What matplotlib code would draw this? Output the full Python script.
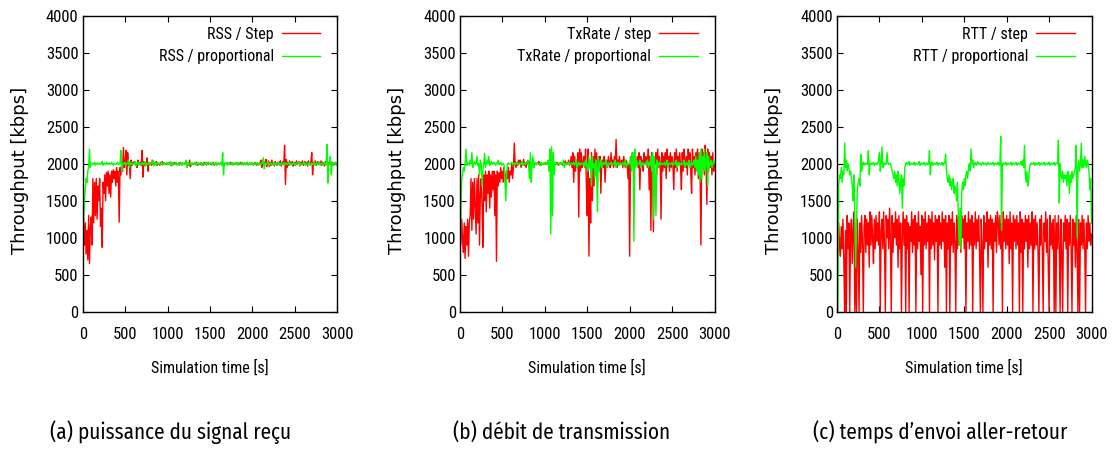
import numpy as np
import matplotlib
matplotlib.use("Agg")
import matplotlib.pyplot as plt

plt.rcParams['font.family'] = ['Roboto Condensed', 'DejaVu Sans']

# throughput samples, every 10 s from 0 to 3000 s
rss_step = [
    800, 1250, 900, 1200, 780, 1100, 700, 1300, 650, 1150,
    1280, 900, 1800, 1200, 1750, 1300, 1800, 1250, 1700, 1500,
    1800, 1150, 1400, 870, 1750, 1600, 1850, 1500, 1880, 1700,
    1900, 1600, 1850, 1550, 1900, 1750, 1920, 1800, 1900, 1700,
    1950, 1750, 1900, 1210, 1950, 1850, 1980, 1900, 2220, 1950,
    2000, 2180, 1850, 2150, 1980, 2020, 1800, 2050, 1980, 2020,
    2000, 2030, 1990, 2010, 1950, 2050, 1990, 2000, 2020, 1980,
    2180, 1820, 2030, 1980, 2020, 1990, 2080, 1900, 2010, 1990,
    2010, 1980, 2050, 1990, 2020, 1990, 2000, 2030, 1980, 2010,
    2000, 1980, 2020, 2000, 2030, 1990, 2010, 2000, 1990, 2010,
    1990, 2010, 2000, 2020, 1980, 2000, 2010, 1990, 2020, 2000,
    2010, 1990, 2000, 2010, 1980, 2020, 2000, 1990, 2010, 2000,
    2000, 2020, 1990, 2000, 2010, 1980, 2050, 1960, 2000, 2010,
    1990, 2000, 2010, 1990, 2020, 2000, 1980, 2010, 2000, 1990,
    2010, 2000, 1980, 2020, 2000, 1990, 2010, 2000, 2020, 1990,
    2000, 2010, 1990, 2000, 2020, 1980, 2000, 2010, 1990, 2000,
    2010, 1990, 2000, 2020, 1990, 2000, 2010, 1980, 2000, 2010,
    2000, 1990, 2010, 2000, 2020, 1990, 2000, 2010, 1990, 2000,
    2010, 2000, 1990, 2000, 2010, 1990, 2020, 2000, 1990, 2010,
    2000, 2010, 1990, 2000, 2020, 1990, 2000, 2010, 2000, 1990,
    2010, 2000, 1990, 2020, 2000, 1980, 2010, 2000, 1990, 2010,
    2050, 1950, 2000, 2030, 1980, 2010, 2060, 1960, 2000, 2040,
    1960, 2020, 1980, 2050, 1990, 2010, 1970, 2030, 2000, 1980,
    2020, 1990, 2010, 2040, 1970, 2000, 2030, 1990, 2250, 1720,
    2060, 1950, 2020, 1980, 2040, 1990, 2010, 2030, 1970, 2000,
    2020, 1980, 2040, 1990, 2010, 2030, 1970, 2020, 1990, 2040,
    1980, 2010, 2030, 1990, 2020, 1970, 2040, 2000, 1990, 2030,
    2150, 1850, 2020, 1990, 2040, 1980, 2010, 2030, 1990, 2020,
    1990, 2040, 1980, 2020, 2000, 1970, 2030, 2010, 1990, 2020,
    1980, 2030, 2000, 1990, 2020, 1980, 2010, 2000, 2020, 1990,
    2000]
rss_prop = [
    800, 1200, 1500, 1650, 1800, 1750, 1900, 1950, 2200, 1950,
    2000, 2010, 1990, 2000, 2020, 1980, 2000, 2010, 1990, 2000,
    2010, 1990, 2000, 2030, 1980, 2000, 2010, 1990, 2020, 2000,
    1990, 2010, 2000, 1990, 2020, 2000, 1980, 2010, 2000, 1990,
    2000, 2020, 1990, 2000, 2010, 2180, 1900, 2010, 1990, 2000,
    2020, 1980, 2000, 2010, 2050, 1950, 2000, 2020, 1990, 2000,
    2010, 1990, 2030, 1970, 2000, 2020, 1980, 2010, 2000, 1990,
    2020, 1990, 2000, 2030, 1970, 2010, 2000, 1990, 2020, 2000,
    1990, 2010, 2000, 2040, 1970, 2000, 2030, 1980, 2010, 2000,
    2010, 1990, 2000, 2020, 1980, 2000, 2010, 1990, 2000, 2020,
    1990, 2000, 2010, 1990, 2030, 1970, 2000, 2010, 1990, 2000,
    2020, 1980, 2000, 2010, 1990, 2000, 2020, 1980, 2000, 2010,
    1990, 2000, 2050, 1950, 2010, 1990, 2000, 2020, 1980, 2000,
    2010, 1990, 2000, 2020, 1980, 2000, 2010, 1990, 2000, 2020,
    1980, 2000, 2010, 1990, 2000, 2020, 1980, 2000, 2010, 1990,
    2000, 2020, 1980, 2000, 2010, 1990, 2000, 2020, 1980, 2000,
    2010, 1990, 2000, 2020, 1980, 2150, 1850, 2010, 1990, 2000,
    2020, 1980, 2000, 2010, 1990, 2000, 2020, 1980, 2000, 2010,
    1990, 2000, 2020, 1980, 2000, 2010, 1990, 2000, 2020, 1980,
    2000, 2010, 1990, 2000, 2020, 1980, 2000, 2010, 1990, 2000,
    2020, 1980, 2000, 2010, 1990, 2000, 2020, 1980, 2000, 2010,
    1990, 2000, 2020, 2080, 1930, 2000, 2010, 1990, 2000, 2020,
    1980, 2000, 2010, 1990, 2000, 2020, 1980, 2000, 2010, 1990,
    2000, 2020, 1980, 2000, 2010, 1990, 2000, 2020, 1980, 2000,
    2010, 1990, 2000, 2020, 1980, 2000, 2010, 1990, 2000, 2020,
    1980, 2000, 2010, 1990, 2000, 2020, 1980, 2000, 2010, 1990,
    2000, 2020, 1980, 2000, 2010, 1990, 2000, 2020, 1980, 2000,
    2010, 1990, 2000, 2020, 1980, 2000, 2010, 1990, 2000, 2020,
    1980, 2000, 2010, 1990, 2000, 2020, 1980, 2000, 2260, 1740,
    2000, 2020, 2100, 1850, 2000, 2010, 1990, 2000, 2020, 1980,
    2000]

tx_step = [
    1300, 900, 1250, 1000, 800, 1200, 720, 1150, 900, 1250,
    750, 1200, 1300, 1800, 1100, 1750, 1250, 1800, 1400, 1050,
    1800, 1200, 1850, 900, 1600, 1800, 1450, 870, 1850, 1500,
    1900, 1350, 1850, 1600, 1900, 1400, 1850, 1550, 1900, 1650,
    1900, 1300, 1850, 680, 1900, 1700, 1880, 1750, 1950, 1800,
    1900, 1750, 1950, 1850, 1700, 1900, 1800, 1950, 1750, 1900,
    1850, 2000, 1800, 1950, 2280, 2000, 1950, 2020, 1980, 2050,
    2000, 2050, 1950, 2020, 1990, 2060, 1980, 2010, 1950, 2030,
    2000, 2040, 1980, 2010, 1990, 2020, 2000, 1980, 2010, 2000,
    1990, 2010, 2000, 2030, 1980, 2000, 2010, 1990, 2000, 2010,
    2000, 2020, 1990, 2010, 2000, 1990, 2010, 2000, 2020, 1980,
    2000, 2010, 1990, 2000, 2020, 2010, 1980, 2000, 2010, 2000,
    2010, 1980, 2020, 2000, 2040, 1990, 2010, 2000, 2050, 1980,
    2000, 2100, 1950, 2150, 1750, 2100, 1900, 2050, 1950, 2150,
    1280, 2200, 1900, 2150, 1950, 2000, 2100, 1950, 2200, 1700,
    1300, 2200, 750, 1800, 1200, 2150, 1500, 2100, 1700, 2200,
    1850, 2150, 1950, 2050, 2000, 2100, 1600, 2000, 2050, 1950,
    2100, 1750, 2000, 2050, 1950, 2100, 2000, 1950, 2150, 2000,
    2050, 1950, 2100, 1980, 2330, 1950, 2050, 1980, 2100, 2000,
    2000, 2050, 1950, 2100, 2000, 1950, 2050, 2000, 1800, 2000,
    750, 2050, 1950, 2150, 2000, 2100, 1950, 2050, 2000, 2100,
    1950, 2150, 1650, 2100, 2000, 2050, 1900, 2150, 2000, 2100,
    2050, 1950, 2200, 1650, 2100, 1100, 2150, 1950, 1080, 2100,
    2000, 2150, 1850, 2200, 1950, 2100, 2000, 1250, 2150, 1900,
    2100, 1950, 2150, 1800, 2200, 2000, 2100, 1900, 2150, 1950,
    2100, 2000, 1650, 2150, 1950, 2200, 1900, 2100, 2000, 2150,
    1950, 1650, 2150, 1900, 2200, 2050, 1950, 2100, 1850, 2200,
    2000, 2150, 1900, 1600, 2200, 1950, 2100, 1850, 2150, 1950,
    2200, 1800, 2150, 1900, 900, 2200, 1950, 2150, 1850, 2250,
    2000, 1450, 2200, 1900, 2150, 1950, 2100, 1850, 2150, 1900,
    2000]
tx_prop = [
    600, 1300, 1800, 1850, 1950, 1900, 2000, 2200, 1980, 2020,
    2000, 1980, 2050, 2000, 2150, 1950, 2000, 2030, 1990, 2000,
    2100, 1980, 2000, 1850, 2050, 2000, 1700, 1900, 2000, 2140,
    1950, 2000, 2050, 2000, 2100, 1980, 2000, 2030, 1990, 2000,
    2020, 2000, 1980, 2010, 2000, 2050, 1990, 2000, 2020, 1980,
    2000, 2000, 1980, 1750, 1500, 1850, 2000, 2010, 1990, 2000,
    2000, 2020, 1990, 2000, 2010, 1990, 2000, 2020, 1990, 2000,
    2010, 1990, 2000, 2030, 1980, 2000, 2010, 1990, 2000, 2020,
    2050, 1950, 1800, 2150, 1750, 2000, 2100, 1950, 2000, 2020,
    1990, 2000, 2010, 1990, 2000, 2020, 1980, 2000, 2010, 1990,
    2000, 2020, 1990, 2000, 2050, 1900, 2200, 1050, 2230, 1300,
    2150, 1850, 2000, 2020, 1990, 2000, 2010, 1990, 2000, 2020,
    1990, 2000, 2050, 1950, 2000, 2010, 1990, 2000, 2020, 1990,
    2000, 2010, 1990, 2000, 2020, 1980, 2000, 2050, 1950, 2000,
    2020, 1980, 2000, 2010, 1990, 2000, 2020, 1950, 2050, 1980,
    2000, 1900, 2100, 1950, 2050, 1700, 2100, 1950, 2000, 1800,
    2050, 1950, 1350, 2100, 1900, 2000, 2050, 1950, 2000, 2020,
    1990, 2000, 2050, 1950, 2000, 2010, 1990, 2000, 2020, 1980,
    2000, 2010, 1990, 2050, 1950, 2000, 2020, 1980, 2000, 2010,
    1990, 2000, 2020, 1980, 2000, 2050, 1950, 2000, 2010, 1990,
    2000, 2100, 1900, 2050, 2150, 950, 2200, 1950, 2050, 2000,
    1990, 2000, 2050, 1950, 2000, 2020, 1980, 2000, 2010, 1990,
    2000, 2050, 1950, 2020, 1980, 2100, 1900, 2150, 1250, 2100,
    1850, 1300, 2050, 1950, 2000, 2020, 1980, 2000, 2010, 1990,
    2000, 2020, 1980, 2000, 2050, 1950, 2000, 2010, 1990, 2000,
    2020, 1980, 2000, 2010, 1990, 2050, 1950, 2000, 2020, 1980,
    2000, 2010, 1990, 2000, 2050, 1950, 2000, 2020, 1980, 2000,
    2050, 1950, 2000, 2020, 1980, 2000, 2050, 1950, 2100, 1900,
    2050, 1850, 2150, 1750, 2200, 1800, 2100, 1950, 2200, 1900,
    2050, 2150, 1700, 2100, 1950, 2000, 2050, 1950, 2000, 2050,
    2000]

rtt_step = [
    1050, 800, 1200, 900, 750, 1150, 850, 1250, 700, 0,
    1100, 0, 1300, 850, 1200, 0, 1050, 1250, 650, 1100,
    1350, 0, 900, 0, 1250, 850, 0, 1200, 800, 1300,
    950, 0, 1150, 1300, 800, 1250, 900, 1200, 600, 1350,
    900, 1300, 1000, 650, 1250, 850, 1300, 950, 1200, 900,
    1350, 0, 1100, 1250, 850, 1350, 900, 0, 1300, 1000,
    1250, 850, 1400, 950, 0, 1300, 800, 1200, 1000, 1350,
    900, 1250, 600, 1300, 850, 1200, 0, 1050, 1350, 900,
    1250, 0, 1300, 850, 1200, 0, 1150, 950, 1350, 800,
    1250, 900, 1300, 0, 1200, 850, 1350, 950, 1150, 500,
    1300, 0, 1250, 900, 1350, 850, 1200, 950, 1300, 0,
    1250, 850, 1350, 900, 1200, 700, 1300, 950, 1250, 0,
    1300, 900, 1200, 850, 1350, 950, 1250, 600, 1300, 0,
    1200, 850, 1300, 0, 1250, 900, 1350, 800, 1200, 950,
    0, 1300, 850, 1250, 900, 1200, 800, 1300, 1000, 1250,
    850, 1300, 0, 1200, 950, 1350, 850, 1250, 900, 1300,
    0, 1200, 900, 1350, 850, 1250, 950, 1300, 800, 0,
    1250, 900, 0, 1300, 850, 1200, 950, 1350, 600, 1250,
    900, 1300, 850, 1250, 0, 1200, 950, 1300, 800, 1350,
    1250, 900, 1300, 850, 1200, 0, 1350, 950, 1250, 850,
    1300, 900, 1250, 650, 1350, 850, 1200, 0, 1300, 950,
    1250, 850, 1300, 900, 1200, 0, 1350, 800, 1250, 0,
    1200, 850, 1300, 950, 1250, 600, 1300, 850, 1200, 900,
    1350, 0, 1250, 850, 1300, 900, 1200, 800, 0, 1250,
    900, 1300, 850, 0, 1200, 950, 1350, 800, 1250, 600,
    0, 1300, 900, 1200, 850, 1250, 0, 1300, 0, 1200,
    850, 1300, 900, 0, 1250, 800, 0, 1200, 950, 1300,
    850, 1250, 0, 1200, 900, 1300, 850, 0, 1250, 900,
    1200, 600, 1300, 850, 0, 1250, 0, 1200, 900, 1300,
    850, 1250, 900, 0, 1200, 850, 1300, 950, 1200, 900,
    1050]
rtt_prop = [
    1200, 0, 1700, 1850, 1800, 1950, 1750, 1900, 1850, 2280,
    1950, 2050, 1900, 2000, 1950, 1850, 1900, 1800, 1700, 1500,
    1850, 1300, 600, 1200, 1650, 1750, 1800, 1700, 2130, 1900,
    2000, 2020, 1980, 2000, 2010, 1990, 2000, 2180, 1850, 2000,
    2010, 1990, 2000, 2020, 1980, 2000, 2010, 1990, 2000, 2050,
    2150, 1900, 2000, 2230, 1950, 2000, 2010, 1990, 2000, 2150,
    2000, 1990, 2010, 2000, 1950, 1900, 1850, 1800, 1900, 1750,
    1850, 1700, 1900, 1800, 1600, 1750, 1850, 1400, 1800, 1700,
    1950, 2000, 2020, 1990, 2000, 2030, 1980, 2000, 2010, 1990,
    2000, 2020, 1980, 2010, 2000, 1990, 2000, 2030, 1980, 2000,
    2010, 1990, 2000, 2020, 1980, 2000, 2010, 1990, 2000, 2180,
    1850, 2000, 2020, 1980, 2000, 2010, 1990, 2000, 2020, 1980,
    2000, 2010, 1990, 2000, 2020, 1980, 2000, 2010, 2130, 1900,
    1800, 1750, 1850, 1700, 1800, 1650, 1750, 1800, 1600, 1700,
    1650, 1500, 1750, 1350, 900, 1400, 850, 1600, 1750, 1650,
    1800, 1700, 1850, 1900, 1800, 1950, 2000, 1900, 2200, 2000,
    2050, 1950, 2000, 2020, 1980, 2000, 2030, 1990, 2000, 2010,
    1980, 2000, 2020, 1990, 2000, 2010, 1980, 2000, 2020, 1990,
    2000, 2010, 1990, 2000, 2020, 1980, 2000, 2010, 1990, 2000,
    2020, 1980, 2000, 2370, 1100, 2000, 2010, 1990, 2000, 2020,
    1980, 2000, 2010, 1990, 2000, 2020, 1980, 2000, 2010, 1990,
    2000, 2020, 1980, 2000, 2010, 1990, 2000, 2030, 1980, 2050,
    1950, 2250, 1850, 1750, 1900, 1700, 1800, 1950, 2000, 2010,
    1990, 2000, 2020, 1980, 2000, 2010, 1990, 2000, 2020, 1980,
    2000, 2010, 1990, 2000, 2020, 1980, 2000, 2010, 1990, 2000,
    2020, 1980, 2000, 2010, 1990, 2000, 2020, 1980, 2000, 2010,
    2000, 2320, 1470, 2000, 1850, 1800, 1900, 1750, 1850, 1800,
    1850, 1700, 1900, 1800, 1600, 1850, 1750, 1900, 1800, 1850,
    1900, 1950, 2250, 1000, 1950, 2050, 1900, 2000, 2280, 1950,
    2050, 1950, 2100, 2000, 1950, 2050, 2000, 1900, 1650, 1800,
    1200]

panels = [
    (rss_step, rss_prop, 'RSS / Step', 'RSS / proportional', '(a) puissance du signal reçu'),
    (tx_step, tx_prop, 'TxRate / step', 'TxRate / proportional', '(b) débit de transmission'),
    (rtt_step, rtt_prop, 'RTT / step', 'RTT / proportional', '(c) temps d\u2019envoi aller-retour'),
]
yticks = [0, 500, 1000, 1500, 2000, 2500, 3000, 3500, 4000]
xticks = [0, 500, 1000, 1500, 2000, 2500, 3000]

W, H = 1116, 451
fig = plt.figure(figsize=(W / 100, H / 100), dpi=100)
lefts = [82.7, 460, 837]
caption_x = [171, 562, 940]
aw, ah = 254.5, 295.6
for i, (step, prop, lab1, lab2, caption) in enumerate(panels):
    ax = fig.add_axes([lefts[i] / W, 1 - 311.6 / H, aw / W, ah / H])
    t1 = np.linspace(0, 3000, len(step))
    t2 = np.linspace(0, 3000, len(prop))
    ax.plot(t1, step, color='#ff0000', lw=1.0, label=lab1)
    ax.plot(t2, prop, color='#00ff00', lw=1.0, label=lab2)
    ax.set_xlim(0, 3000)
    ax.set_ylim(0, 4000)
    ax.set_xticks(xticks)
    ax.set_yticks(yticks)
    ax.tick_params(direction='in', length=4, width=0.8, top=True, right=True,
                   labelsize=12)
    ax.tick_params(axis='y', pad=3)
    ax.tick_params(axis='x', pad=11)
    for s in ax.spines.values():
        s.set_linewidth(1.0)
    ax.set_xlabel('Simulation time [s]', fontsize=11.5)
    ax.xaxis.label.set_va('center')
    ax.xaxis.set_label_coords(0.5, (311.6 - 368) / ah)
    ax.set_ylabel('Throughput [kbps]', fontsize=13, family=['DejaVu Sans'])
    ax.yaxis.label.set_va('center')
    ax.yaxis.set_label_coords((20 - lefts[0]) / aw, (311.6 - 170) / ah)
    ax.legend(loc='upper right', bbox_to_anchor=(1 - 17 / aw, 1 - 11 / ah),
              frameon=False, markerfirst=False, fontsize=11.5,
              handlelength=2.4, handletextpad=0.5, labelspacing=0.45,
              borderaxespad=0, borderpad=0)
    fig.text(caption_x[i] / W, 1 - 432 / H, caption, ha='center', va='center',
             fontsize=15.2, family=['Fira Sans Condensed', 'DejaVu Sans'])

fig.savefig('out.png', dpi=100)
